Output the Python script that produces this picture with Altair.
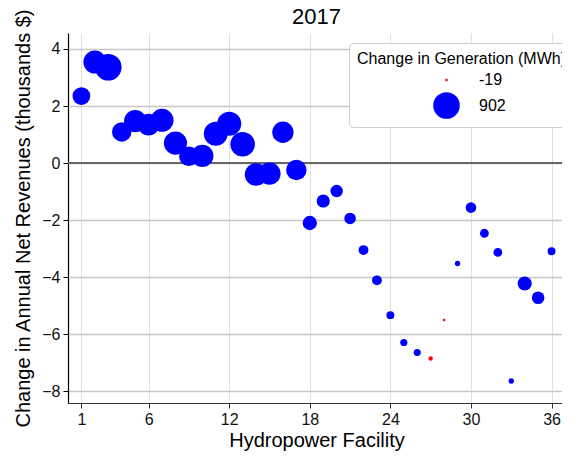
import altair as alt
import pandas as pd

FONT = "Liberation Sans"

facility = list(range(1, 37))
revenue_change = [2.35, 3.54, 3.36, 1.09, 1.47, 1.35, 1.50, 0.70, 0.24, 0.25,
                  1.03, 1.38, 0.66, -0.40, -0.37, 1.08, -0.24, -2.10, -1.33, -0.98,
                  -1.94, -3.05, -4.11, -5.33, -6.29, -6.64, -6.85, -5.50, -3.52, -1.56,
                  -2.46, -3.13, -7.64, -4.22, -4.72, -3.09]
generation_change = [390, 670, 902, 470, 620, 600, 670, 680, 480, 620,
                     725, 740, 760, 640, 620, 570, 520, 240, 200, 175,
                     145, 100, 100, 55, 40, 38, -3, -19, 9, 120,
                     75, 75, 10, 235, 180, 55]
x_ticks = [1, 6, 12, 18, 24, 30, 36]
y_ticks = [-8, -6, -4, -2, 0, 2, 4]
legend_values = [-19, 902]

df = pd.DataFrame({"facility": facility, "revenue": revenue_change, "gen": generation_change})

scale_domain = [-19, -0.01, 0, 902]
size_scale = alt.Scale(type="linear", domain=scale_domain, range=[7, 21.4, 21.45, 707])
color_scale = alt.Scale(type="linear", domain=scale_domain,
                        range=["#ff0000", "#ff0000", "#0000ff", "#0000ff"])

legend_kwargs = dict(
    values=legend_values,
    title="Change in Generation (MWh)",
    orient="none", legendX=281, legendY=10,
    padding=8, strokeColor="#cccccc", fillColor="#ffffff", cornerRadius=4,
    titleFont=FONT, titleFontSize=16, titleFontWeight="normal", titleColor="#000000",
    titlePadding=5, titleLimit=400,
    labelFont=FONT, labelFontSize=16, labelColor="#000000",
    labelExpr="'' + datum.value",
    symbolOffset=76, labelOffset=19, rowPadding=4,
    symbolType="circle", symbolOpacity=1, symbolStrokeWidth=0,
)

x_axis = alt.Axis(values=x_ticks, title="Hydropower Facility", grid=True,
                  domainColor="#333333", tickColor="#333333",
                  gridColor="#e0e0e0", gridWidth=1, titlePadding=3)
y_axis = alt.Axis(values=y_ticks, grid=True,
                  title="Change in Annual Net Revenues (thousands $)",
                  domainColor="#000000", tickColor="#000000",
                  gridColor="#c8c8c8", gridWidth=1.5, titlePadding=8)
x_scale = alt.Scale(domain=[0, 37], nice=False, zero=False)
y_scale = alt.Scale(domain=[-8.41, 4.56], nice=False, zero=False)

points = alt.Chart(df).mark_circle(opacity=1).encode(
    x=alt.X("facility:Q", scale=x_scale, axis=x_axis),
    y=alt.Y("revenue:Q", scale=y_scale, axis=y_axis),
    size=alt.Size("gen:Q", scale=size_scale, legend=alt.Legend(**legend_kwargs)),
    color=alt.Color("gen:Q", scale=color_scale, legend=alt.Legend(**legend_kwargs)),
)

zero_line = alt.Chart(df).mark_rule(color="#666666", strokeWidth=2).encode(
    y=alt.YDatum(0, scale=y_scale, axis=y_axis)
)

right_border = alt.Chart(df).mark_rule(color="#d0d0d0", strokeWidth=1.5).encode(
    x=alt.XDatum(36.9, scale=x_scale, axis=x_axis)
)

chart = alt.layer(right_border, zero_line, points).properties(
    width=497, height=370,
    title=alt.TitleParams("2017", fontSize=22, fontWeight="normal", color="#000000",
                          offset=5, dy=26, anchor="middle", font=FONT),
    autosize=alt.AutoSizeParams(type="none"),
    padding={"left": 60, "top": 25, "right": -3, "bottom": 50},
).configure_view(stroke=None).configure_axis(
    labelFont=FONT, labelFontSize=16, labelColor="#111111",
    titleFont=FONT, titleFontSize=20, titleFontWeight="normal", titleColor="#000000",
    tickSize=5, labelPadding=3, domainWidth=1.2,
)

chart.save("out.html", embed_options={"renderer": "svg", "actions": False})
